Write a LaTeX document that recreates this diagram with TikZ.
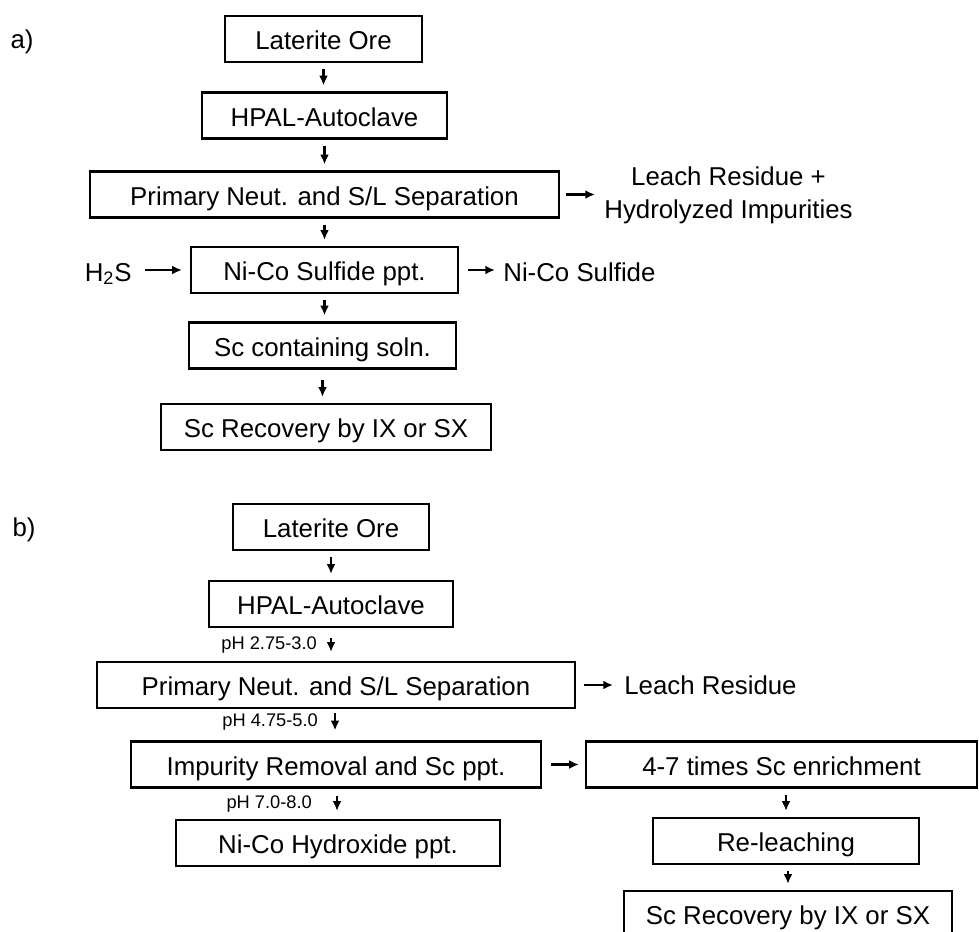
\documentclass[tikz,border=0pt]{standalone}
\usepackage{fontspec}
\setmainfont{Liberation Sans}
\usetikzlibrary{arrows.meta}
\tikzset{
proc/.style={draw=black,line width=1.3pt,rectangle,minimum height=0.92cm,inner sep=0pt,text height=13pt,text depth=1pt,font=\fontsize{14.7}{18.5}\selectfont},
txt/.style={inner sep=0pt,font=\fontsize{14.7}{18.5}\selectfont},
phtxt/.style={inner sep=0pt,font=\fontsize{10.4}{12}\selectfont},
flow/.style={line width=1.3pt,-{Latex[length=5.5pt,width=5pt]},shorten <=0.12cm,shorten >=0.12cm},
side/.style={line width=1.3pt,-{Latex[length=5.5pt,width=5pt]},shorten <=0.16cm,shorten >=0.16cm},
}
\begin{document}
\begin{tikzpicture}[x=0.02cm,y=-0.02cm]
\useasboundingbox (0,0) rectangle (979,931);

\node[txt] (tagA) at (22,42) {a)};
\node[proc,minimum width=3.94cm] (oreA) at (323.5,39) {Laterite Ore};
\node[proc,minimum width=4.9cm] (hpalA) at (324.5,115.5) {HPAL-Autoclave};
\node[proc,minimum width=9.38cm] (neutA) at (324.5,194.5) {Primary Neut. and S/L Separation};
\node[proc,minimum width=5.34cm] (sulfA) at (324.5,270) {Ni-Co Sulfide ppt.};
\node[proc,minimum width=5.34cm] (solnA) at (322.5,345.5) {Sc containing soln.};
\node[proc,minimum width=6.6cm] (recA) at (326,427) {Sc Recovery by IX or SX};
\node[txt,anchor=west,align=center] (residA) at (604,195.5) {Leach Residue +\\Hydrolyzed Impurities};
\node[txt,anchor=east] (h2s) at (132,274) {H\textsubscript{2}S};
\node[txt,anchor=west] (sulfout) at (503,272) {Ni-Co Sulfide};

\draw[flow] (oreA.south) -- (oreA.south |- hpalA.north);
\draw[flow] (hpalA.south) -- (hpalA.south |- neutA.north);
\draw[flow] (neutA.south) -- (neutA.south |- sulfA.north);
\draw[flow] (sulfA.south) -- (sulfA.south |- solnA.north);
\draw[flow,shorten <=0.2cm] (solnA.south) -- (solnA.south |- recA.north);
\draw[side,shorten <=0.12cm,shorten >=0.18cm] (neutA.east) -- (neutA.east -| residA.west);
\draw[side,shorten <=0.26cm] (h2s.east |- sulfA.west) -- (sulfA.west);
\draw[side,shorten <=0.18cm] (sulfA.east) -- (sulfA.east -| sulfout.west);

\node[txt] (tagB) at (24,530) {b)};
\node[proc,minimum width=3.92cm] (oreB) at (331,527) {Laterite Ore};
\node[proc,minimum width=4.88cm] (hpalB) at (331,604) {HPAL-Autoclave};
\node[proc,minimum width=9.56cm] (neutB) at (336,685) {Primary Neut. and S/L Separation};
\node[proc,minimum width=8.2cm] (imprB) at (336,764.5) {Impurity Removal and Sc ppt.};
\node[proc,minimum width=6.48cm] (hydrB) at (338,843) {Ni-Co Hydroxide ppt.};
\node[proc,minimum width=7.82cm] (enrB) at (781.5,764.5) {4-7 times Sc enrichment};
\node[proc,minimum width=5.32cm] (relB) at (786,841) {Re-leaching};
\node[proc,minimum width=6.56cm] (recB) at (788,914) {Sc Recovery by IX or SX};
\node[txt,anchor=west] (residB) at (624,685) {Leach Residue};

\draw[flow] (oreB.south) -- (oreB.south |- hpalB.north);
\draw[flow,shorten <=0.2cm,shorten >=0.18cm] (hpalB.south) -- (hpalB.south |- neutB.north)
  node[phtxt,midway,anchor=east,xshift=-0.26cm] {pH 2.75-3.0};
\draw[flow,shorten <=0.08cm,shorten >=0.2cm] ([xshift=-0.02cm]neutB.south) -- ([xshift=-0.02cm]neutB.south |- imprB.north)
  node[phtxt,midway,anchor=east,xshift=-0.32cm,yshift=0.05cm] {pH 4.75-5.0};
\draw[flow,shorten <=0.14cm,shorten >=0.16cm] ([xshift=0.02cm]imprB.south) -- ([xshift=0.02cm]imprB.south |- hydrB.north)
  node[phtxt,midway,anchor=east,xshift=-0.48cm] {pH 7.0-8.0};
\draw[flow] (relB.north |- enrB.south) -- (relB.north);
\draw[flow] (recB.north |- relB.south) -- (recB.north);
\draw[side,shorten >=0.22cm] (neutB.east) -- (neutB.east -| residB.west);
\draw[side,shorten <=0.18cm,shorten >=0.12cm] (imprB.east) -- (imprB.east -| enrB.west);
\end{tikzpicture}
\end{document}
